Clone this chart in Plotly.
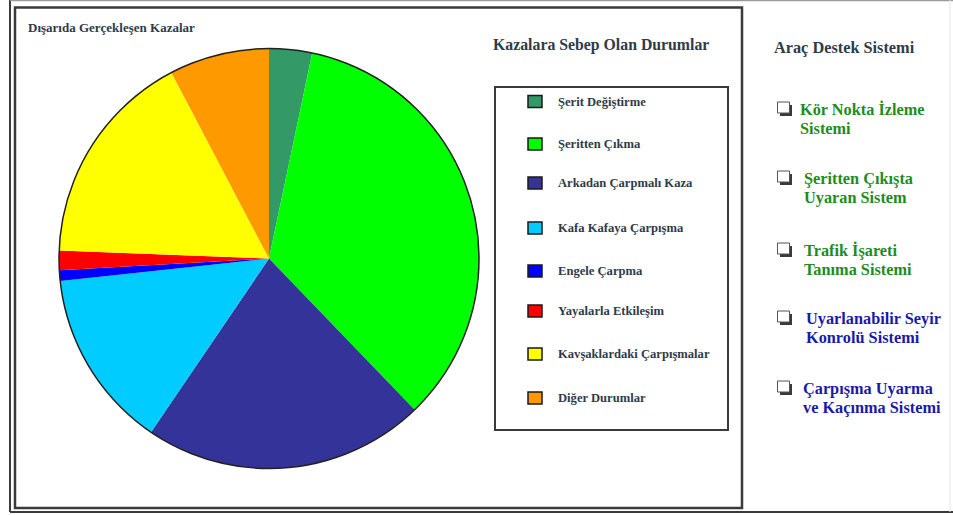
import plotly.graph_objects as go

W, H = 953, 515

labels = ["Şerit Değiştirme", "Şeritten Çıkma", "Arkadan Çarpmalı Kaza", "Kafa Kafaya Çarpışma",
          "Engele Çarpma", "Yayalarla Etkileşim", "Kavşaklardaki Çarpışmalar", "Diğer Durumlar"]
values = [3.3, 34.5, 21.7, 13.8, 0.8, 1.5, 16.7, 7.7]
colors = ["#339966", "#00FF00", "#333399", "#00CCFF", "#0000FF", "#FF0000", "#FFFF00", "#FF9900"]

systems = [["Kör Nokta İzleme", "Sistemi"],
           ["Şeritten Çıkışta", "Uyaran Sistem"],
           ["Trafik İşareti", "Tanıma Sistemi"],
           ["Uyarlanabilir Seyir", "Konrolü Sistemi"],
           ["Çarpışma Uyarma", "ve Kaçınma Sistemi"]]
system_colors = ["#1E8C1E", "#1E8C1E", "#1E8C1E", "#1A1AA8", "#1A1AA8"]

chart_title = "Dışarıda Gerçekleşen Kazalar"
legend_title = "Kazalara Sebep Olan Durumlar"
panel_title = "Araç Destek Sistemi"


def px(x):
    return x / W


def py(y):
    return 1 - y / H


cx, cy, r = 269, 258.5, 210

fig = go.Figure()
fig.add_trace(go.Pie(
    labels=labels, values=values, sort=False, direction="clockwise", rotation=0,
    marker=dict(colors=colors, line=dict(width=0)),
    textinfo="none", hoverinfo="label+percent", showlegend=False,
    domain=dict(x=[px(cx - r), px(cx + r)], y=[py(cy + r), py(cy - r)]),
))

shapes = []
ann = []
frame_col = "#3a3a3a"
# outer frame
shapes.append(dict(type="line", xref="paper", yref="paper", x0=px(10), x1=px(10), y0=py(0), y1=py(512),
                   line=dict(color=frame_col, width=2)))
shapes.append(dict(type="line", xref="paper", yref="paper", x0=px(10), x1=px(953), y0=py(0.5), y1=py(0.5),
                   line=dict(color="#9a9a9a", width=1.5)))
shapes.append(dict(type="line", xref="paper", yref="paper", x0=px(10), x1=px(953), y0=py(512), y1=py(512),
                   line=dict(color=frame_col, width=2)))
shapes.append(dict(type="line", xref="paper", yref="paper", x0=px(950), x1=px(950), y0=py(0), y1=py(512),
                   line=dict(color="#e6e6e6", width=1)))
# inner frame
shapes.append(dict(type="rect", xref="paper", yref="paper", x0=px(15), x1=px(742), y0=py(7.5), y1=py(508),
                   line=dict(color=frame_col, width=2.5)))
# legend box
shapes.append(dict(type="rect", xref="paper", yref="paper", x0=px(495), x1=px(728), y0=py(87), y1=py(430),
                   line=dict(color=frame_col, width=2)))
# pie outline
shapes.append(dict(type="circle", xref="paper", yref="paper", xsizemode="pixel", ysizemode="pixel",
                   xanchor=px(cx), yanchor=py(cy), x0=-r, x1=r, y0=-r, y1=r,
                   line=dict(color="#222222", width=1.5)))

serif = "Liberation Serif"
text_col = "#2f3b48"

ann.append(dict(text="<b>" + chart_title + "</b>", x=px(26), y=py(27), xanchor="left", yanchor="middle",
                font=dict(family=serif, size=13, color=text_col)))
ann.append(dict(text="<b>" + legend_title + "</b>", x=px(491), y=py(45), xanchor="left", yanchor="middle",
                font=dict(family=serif, size=15.8, color=text_col)))
ann.append(dict(text="<b>" + panel_title + "</b>", x=px(772), y=py(47), xanchor="left", yanchor="middle",
                font=dict(family=serif, size=16.3, color=text_col)))

legend_y = [101.5, 144, 183, 228, 271, 311, 354, 398]
for lab, col, yy in zip(labels, colors, legend_y):
    shapes.append(dict(type="rect", xref="paper", yref="paper", x0=px(528), x1=px(542), y0=py(yy - 6),
                       y1=py(yy + 6), fillcolor=col, line=dict(color="#1a1a1a", width=1.5)))
    ann.append(dict(text="<b>" + lab + "</b>", x=px(556), y=py(yy), xanchor="left", yanchor="middle",
                    font=dict(family=serif, size=12.6, color=text_col)))

sys_y = [109, 178, 250, 318, 388]
sys_x = [798, 802, 802, 804, 801]
for lines, col, yy, xx in zip(systems, system_colors, sys_y, sys_x):
    # checkbox with shadow
    shapes.append(dict(type="rect", xref="paper", yref="paper", x0=px(780), x1=px(792), y0=py(yy - 4),
                       y1=py(yy + 7), fillcolor="#3a3a3a", line=dict(width=0)))
    shapes.append(dict(type="rect", xref="paper", yref="paper", x0=px(777.5), x1=px(789.5), y0=py(yy - 7),
                       y1=py(yy + 4), fillcolor="white", line=dict(color="#555555", width=1)))
    for i, line in enumerate(lines):
        ann.append(dict(text="<b>" + line + "</b>", x=px(xx), y=py(yy + 19.5 * i), xanchor="left",
                        yanchor="middle", font=dict(family=serif, size=16.3, color=col)))

for a in ann:
    a.update(xref="paper", yref="paper", showarrow=False)

fig.update_layout(width=W, height=H, margin=dict(l=0, r=0, t=0, b=0), paper_bgcolor="white",
                  plot_bgcolor="white", shapes=shapes, annotations=ann, showlegend=False)

fig.write_html("out.html")
